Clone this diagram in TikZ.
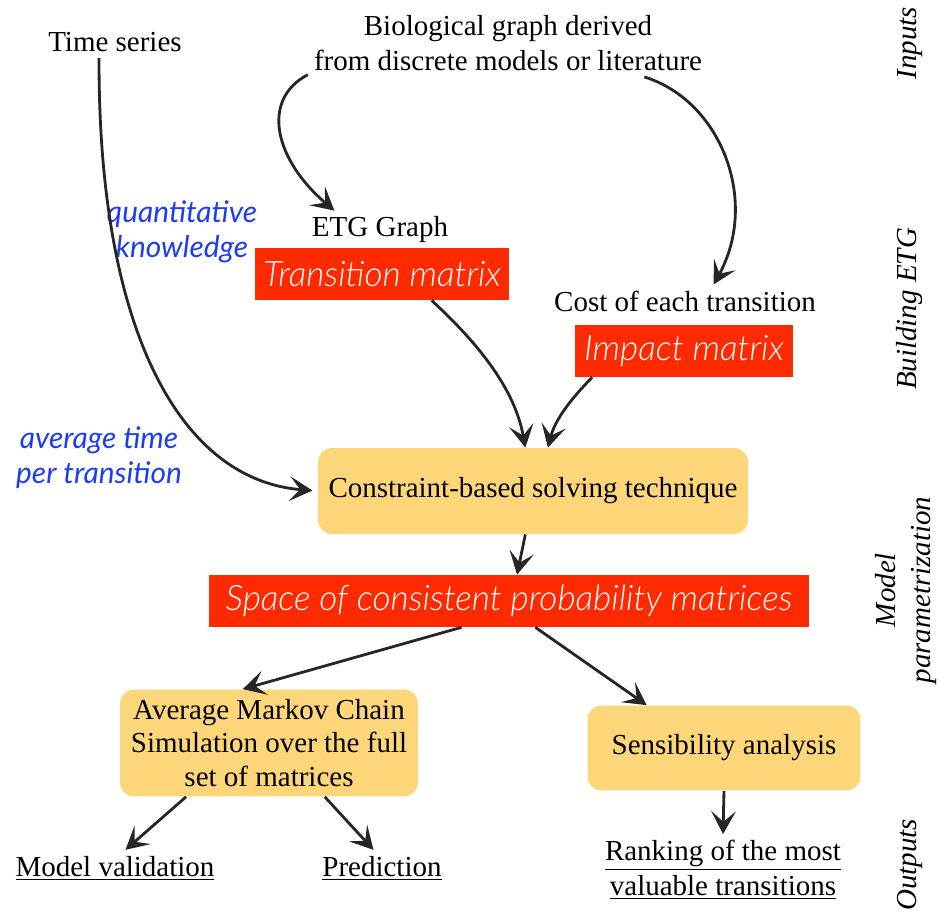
\documentclass[tikz,border=0pt]{standalone}
\usepackage{fontspec}
\setmainfont{Liberation Serif}
\newfontfamily\handfont{Lato}[UprightFont=* Light, ItalicFont=* Light Italic]
\newfontfamily\notefont{Lato}
\usepackage{tikz}
\usetikzlibrary{positioning, arrows.meta, shapes, calc}
\usepackage{xcolor}
\definecolor{redfill}{RGB}{255,42,0}
\definecolor{yellowfill}{RGB}{253,214,122}
\definecolor{handblue}{RGB}{30,60,240}

\begin{document}
\begin{tikzpicture}[x=0.02cm, y=-0.02cm, font=\fontsize{16.5}{20}\selectfont,
  arr/.style={-{Stealth[length=13pt, width=14pt, inset=6pt]}, line width=1.6pt, black!85},
  redbox/.style={fill=redfill, text=white, font=\handfont\itshape\fontsize{20}{24}\selectfont, minimum height=1.04cm, inner sep=0pt},
  yellowbox/.style={fill=yellowfill, rounded corners=8pt, align=center, inner sep=0pt},
  hand/.style={text=handblue, font=\notefont\itshape\fontsize{17}{20}\selectfont, align=center},
  side/.style={rotate=90, font=\itshape\fontsize{16.5}{20}\selectfont, align=center}]
\useasboundingbox (0,0) rectangle (941,911);

% Inputs
\node (ts) at (115,42) {Time series};
\node[align=center] (bio) at (508,43) {Biological graph derived\\from discrete models or literature};

% Building ETG
\node (etg) at (380,230) {ETG Graph};
\node[redbox, minimum width=5.1cm] (trans) at (382,274) {Transition matrix};
\node (cost) at (685,301) {Cost of each transition};
\node[redbox, minimum width=4.36cm] (impact) at (684,351) {Impact matrix};

% Model parametrization
\node[yellowbox, minimum width=8.6cm, minimum height=1.72cm] (cbs) at (533,491) {Constraint-based solving technique};
\node[redbox, minimum width=12cm] (space) at (509,601) {Space of consistent probability matrices};

% Outputs
\node[yellowbox, minimum width=5.96cm, minimum height=2.14cm, font=\fontsize{16.5}{19}\selectfont] (avg) at (269,743) {Average Markov Chain\\Simulation over the full\\set of matrices};
\node[yellowbox, minimum width=5.46cm, minimum height=1.7cm] (sens) at (724,748) {Sensibility analysis};
\node (valid) at (115,868) {\underline{Model validation}};
\node (pred) at (382,868) {\underline{Prediction}};
\node[align=center] (rank) at (723,870) {\underline{Ranking of the most}\\\underline{valuable transitions}};

% Side labels
\node[side] (linputs) at (910,43) {Inputs};
\node[side] (lbuild) at (910,309) {Building ETG};
\node[side] (lmodel) at (906,590) {Model\\parametrization};
\node[side] (loutputs) at (910,865) {Outputs};

% Hand notes
\node[hand] (quant) at (182,232) {quantitative\\knowledge};
\node[hand] (avgtime) at (99,458) {average time\\per transition};

% Arrows
\draw[arr] (bio.-171) .. controls (260,100) and (275,160) .. (etg.157);
\draw[arr] (bio.-14) .. controls (720,100) and (760,200) .. (cost.30);
\draw[arr, shorten >=3pt] (ts.-135) .. controls (98,330) and (180,480) .. (cbs.west);
\draw[arr] (trans.-28) .. controls (480,345) and (515,390) .. (cbs.100);
\draw[arr] (impact.196) .. controls (570,400) and (555,420) .. (cbs.71);
\draw[arr] (cbs.-100) -- (space.73);
\draw[arr] (space.-151) -- (avg.116);
\draw[arr] (space.-45) -- (sens.151);
\draw[arr] (avg.-147) -- (valid.60);
\draw[arr] (avg.-44) -- (pred.115);
\draw[arr] (sens.south) -- (rank.north);
\end{tikzpicture}
\end{document}
